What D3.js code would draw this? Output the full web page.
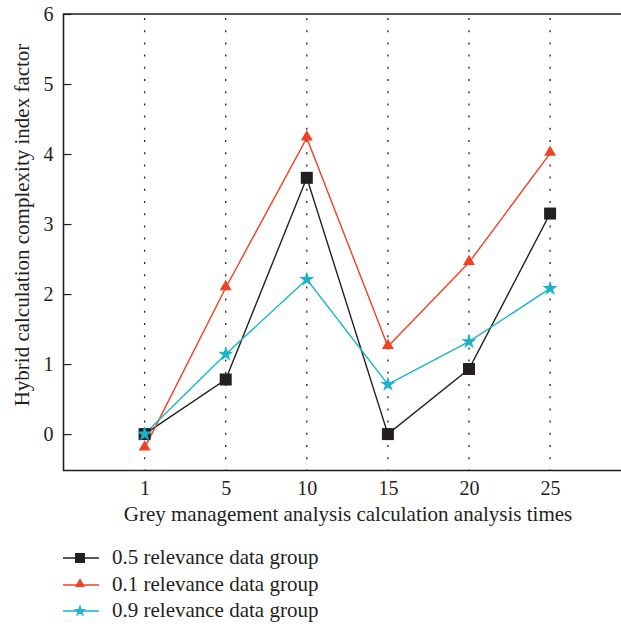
<!DOCTYPE html>
<html><head><meta charset="utf-8">
<script src="https://cdn.jsdelivr.net/npm/d3@7"></script>
<style>body{margin:0;background:#fff}svg{display:block}</style>
</head><body>
<svg id="c" width="621" height="627"></svg>
<script>
const categories = ["1","5","10","15","20","25"];
const series05 = [0, 0.78, 3.66, 0, 0.93, 3.15];
const series01 = [-0.2, 2.09, 4.23, 1.25, 2.45, 4.01];
const series09 = [0, 1.14, 2.21, 0.71, 1.32, 2.08];
const yTicks = [0,1,2,3,4,5,6];
const seriesNames = ["0.5 relevance data group","0.1 relevance data group","0.9 relevance data group"];
const colors = ["#231f20","#ef4123","#1ab3c9"];
const symbols = [d3.symbolSquare, d3.symbolTriangle, d3.symbolStar];
const symSizes = [144, 62, 72];
const FONT = "'Liberation Serif','DejaVu Serif',serif";

const svg = d3.select("#c");
const L = 63.5, T = 14, B = 470.5, R = 621;
const x = d3.scaleLinear().domain([-1, 6]).range([L, L + 81.1*7]);
const y = d3.scaleLinear().domain([-0.52, 6]).range([B, T]);

// dotted vertical grid
svg.append("g").selectAll("line").data(categories).join("line")
  .attr("x1",(d,i)=>x(i)).attr("x2",(d,i)=>x(i))
  .attr("y1",T+4).attr("y2",B)
  .attr("stroke","#231f20").attr("stroke-width",1.3)
  .attr("stroke-dasharray","2,10.2");

// axes
const ya = d3.axisLeft(y).tickValues(yTicks).tickSize(-8).tickPadding(10).tickFormat(d3.format("d"));
const gy = svg.append("g").attr("transform",`translate(${L},0)`).call(ya);
gy.select(".domain").remove();
gy.attr("font-family",FONT).attr("font-size",20);
gy.selectAll(".tick line").attr("stroke","#231f20").attr("stroke-width",1.2);
gy.selectAll("text").attr("fill","#231f20");

const xa = d3.axisBottom(x).tickValues(d3.range(categories.length)).tickFormat(i=>categories[i]).tickSize(0).tickPadding(10);
const gx = svg.append("g").attr("transform",`translate(0,${B})`).call(xa);
gx.select(".domain").remove();
gx.attr("font-family",FONT).attr("font-size",20);
gx.selectAll("text").attr("fill","#231f20");

// frame (left, top, bottom)
svg.append("path").attr("d",`M${R},${T}H${L}V${B}H${R}`).attr("fill","none").attr("stroke","#231f20").attr("stroke-width",1.6);

// series
const all = [series05, series01, series09];
const line = d3.line().x((d,i)=>x(i)).y(d=>y(d));
all.forEach((s,k)=>{
  svg.append("path").datum(s).attr("d",line).attr("fill","none").attr("stroke",colors[k]).attr("stroke-width",1.4);
});
all.forEach((s,k)=>{
  svg.append("g").selectAll("path").data(s).join("path")
    .attr("transform",(d,i)=>`translate(${x(i)},${y(d) + (k===1?-1:0)})`)
    .attr("d",d3.symbol().type(symbols[k]).size(symSizes[k]))
    .attr("fill",colors[k]);
});

// labels
svg.append("text").attr("x",348).attr("y",521).attr("text-anchor","middle")
  .attr("font-family",FONT).attr("font-size",21).attr("fill","#231f20")
  .text("Grey management analysis calculation analysis times");
svg.append("text").attr("transform","translate(29,225) rotate(-90)").attr("text-anchor","middle")
  .attr("font-family",FONT).attr("font-size",21).attr("fill","#231f20")
  .text("Hybrid calculation complexity index factor");

// legend
const ly = [558, 585, 611];
seriesNames.forEach((n,k)=>{
  const g = svg.append("g");
  g.append("line").attr("x1",63).attr("x2",99).attr("y1",ly[k]).attr("y2",ly[k]).attr("stroke",colors[k]).attr("stroke-width",1.4);
  g.append("path").attr("transform",`translate(80,${ly[k]+(k===1?-1:0)})`).attr("d",d3.symbol().type(symbols[k]).size(symSizes[k]*0.7)).attr("fill",colors[k]);
  g.append("text").attr("x",112).attr("y",ly[k]+6).attr("font-family",FONT).attr("font-size",21).attr("fill","#231f20").text(n);
});
</script>
</body></html>
